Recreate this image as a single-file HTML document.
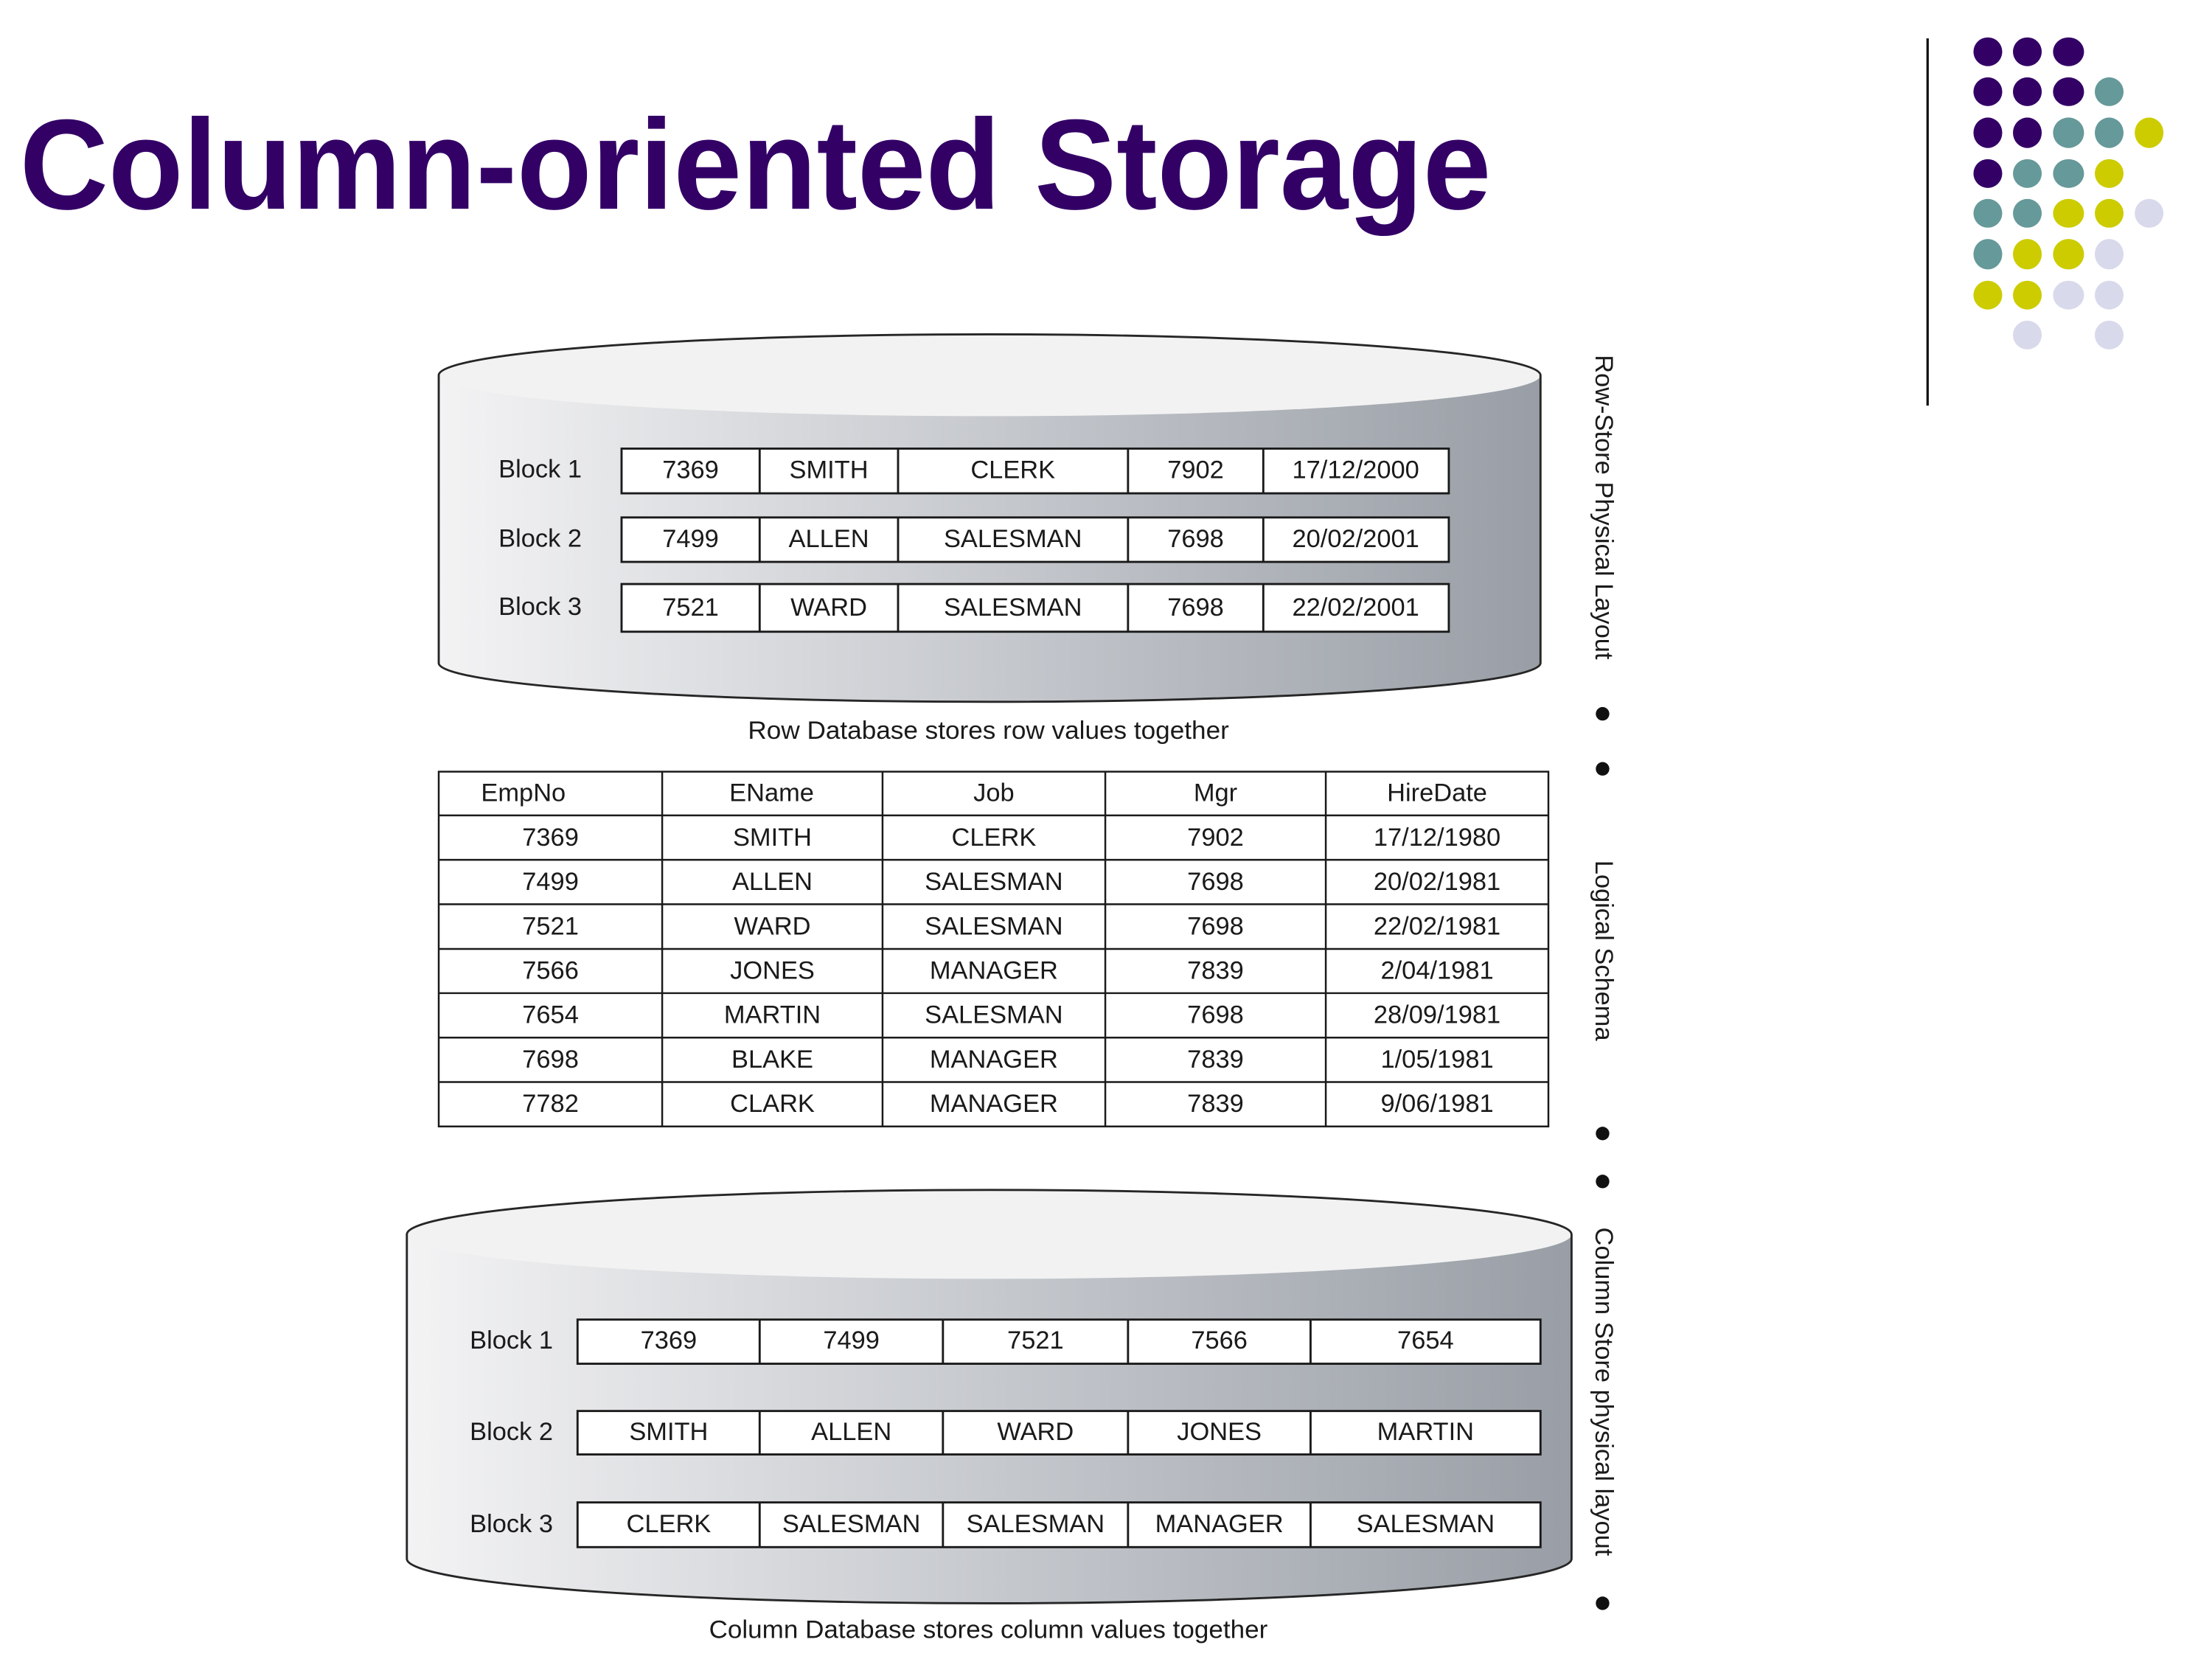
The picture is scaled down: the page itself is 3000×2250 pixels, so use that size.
<!DOCTYPE html>
<html>
<head>
<meta charset="utf-8">
<style>
  html,body{margin:0;padding:0;background:#fff;}
  svg{display:block;}
  .t{font-family:"Liberation Sans",Arial,sans-serif;font-size:18px;fill:#1a1a1a;}
  .c{text-anchor:middle;}
</style>
</head>
<body>
<svg width="3000" height="2250" viewBox="0 0 1568 1176" xmlns="http://www.w3.org/2000/svg">
  <defs>
    <linearGradient id="body" x1="0" y1="0" x2="1" y2="0">
      <stop offset="0" stop-color="#f3f3f4"/>
      <stop offset="0.5" stop-color="#c6c9ce"/>
      <stop offset="1" stop-color="#999ea6"/>
    </linearGradient>
  </defs>
  <rect x="0" y="0" width="1568" height="1176" fill="#fff"/>

  <!-- Title -->
  <text x="14" y="148" font-family="'Liberation Sans',Arial,sans-serif" font-weight="bold" font-size="91" fill="#330066" textLength="1043" lengthAdjust="spacingAndGlyphs">Column-oriented Storage</text>

  <!-- vertical rule -->
  <line x1="1366.4" y1="27.2" x2="1366.4" y2="287.5" stroke="#111" stroke-width="1.7"/>

  <!-- dots -->
  <g>
    <ellipse cx="1409.1" cy="36.7" rx="10.2" ry="10.2" fill="#330066"/>
    <ellipse cx="1437.1" cy="36.7" rx="10.2" ry="10.2" fill="#330066"/>
    <ellipse cx="1466.3" cy="36.7" rx="11" ry="10.2" fill="#330066"/>
    <ellipse cx="1409.1" cy="65" rx="10.2" ry="10.2" fill="#330066"/>
    <ellipse cx="1437.1" cy="65" rx="10.2" ry="10.2" fill="#330066"/>
    <ellipse cx="1466.3" cy="65" rx="11" ry="10.2" fill="#330066"/>
    <ellipse cx="1495.1" cy="65" rx="10.2" ry="10.2" fill="#669999"/>
    <ellipse cx="1409.1" cy="94.1" rx="10.2" ry="10.8" fill="#330066"/>
    <ellipse cx="1437.1" cy="94.1" rx="10.2" ry="10.8" fill="#330066"/>
    <ellipse cx="1466.3" cy="94.1" rx="11" ry="10.8" fill="#669999"/>
    <ellipse cx="1495.1" cy="94.1" rx="10.2" ry="10.8" fill="#669999"/>
    <ellipse cx="1523.4" cy="94.1" rx="10.2" ry="10.8" fill="#cccc00"/>
    <ellipse cx="1409.1" cy="123" rx="10.2" ry="10.2" fill="#330066"/>
    <ellipse cx="1437.1" cy="123" rx="10.2" ry="10.2" fill="#669999"/>
    <ellipse cx="1466.3" cy="123" rx="11" ry="10.2" fill="#669999"/>
    <ellipse cx="1495.1" cy="123" rx="10.2" ry="10.2" fill="#cccc00"/>
    <ellipse cx="1409.1" cy="151.2" rx="10.2" ry="10.2" fill="#669999"/>
    <ellipse cx="1437.1" cy="151.2" rx="10.2" ry="10.2" fill="#669999"/>
    <ellipse cx="1466.3" cy="151.2" rx="11" ry="10.2" fill="#cccc00"/>
    <ellipse cx="1495.1" cy="151.2" rx="10.2" ry="10.2" fill="#cccc00"/>
    <ellipse cx="1523.4" cy="151.2" rx="10.2" ry="10.2" fill="#d9d9ec"/>
    <ellipse cx="1409.1" cy="180.2" rx="10.2" ry="10.8" fill="#669999"/>
    <ellipse cx="1437.1" cy="180.2" rx="10.2" ry="10.8" fill="#cccc00"/>
    <ellipse cx="1466.3" cy="180.2" rx="11" ry="10.8" fill="#cccc00"/>
    <ellipse cx="1495.1" cy="180.2" rx="10.2" ry="10.8" fill="#d9d9ec"/>
    <ellipse cx="1409.1" cy="209.2" rx="10.2" ry="10.2" fill="#cccc00"/>
    <ellipse cx="1437.1" cy="209.2" rx="10.2" ry="10.2" fill="#cccc00"/>
    <ellipse cx="1466.3" cy="209.2" rx="11" ry="10.2" fill="#d9d9ec"/>
    <ellipse cx="1495.1" cy="209.2" rx="10.2" ry="10.2" fill="#d9d9ec"/>
    <ellipse cx="1437.1" cy="237.5" rx="10.2" ry="10.2" fill="#d9d9ec"/>
    <ellipse cx="1495.1" cy="237.5" rx="10.2" ry="10.2" fill="#d9d9ec"/>
  </g>

  <!-- ================= TOP CYLINDER ================= -->
  <path d="M311,266 V470 A390.5,27.5 0 0 0 1092,470 V266 Z" fill="url(#body)"/>
  <ellipse cx="701.5" cy="266" rx="390.5" ry="29" fill="#f2f2f2"/>
  <path d="M311,470 V266 A390.5,29 0 0 1 1092,266 V470 A390.5,27.5 0 0 1 311,470 Z" fill="none" stroke="#262626" stroke-width="1.5"/>

  <g fill="#fff" stroke="#1a1a1a" stroke-width="1.5">
    <rect x="440.6" y="318" width="586.4" height="31.7"/>
    <rect x="440.6" y="366.8" width="586.4" height="31.5"/>
    <rect x="440.6" y="414" width="586.4" height="33.8"/>
  </g>
  <g stroke="#1a1a1a" stroke-width="1.5">
    <line x1="538.5" y1="318" x2="538.5" y2="349.7"/>
    <line x1="636.6" y1="318" x2="636.6" y2="349.7"/>
    <line x1="799.6" y1="318" x2="799.6" y2="349.7"/>
    <line x1="895.5" y1="318" x2="895.5" y2="349.7"/>
    <line x1="538.5" y1="366.8" x2="538.5" y2="398.3"/>
    <line x1="636.6" y1="366.8" x2="636.6" y2="398.3"/>
    <line x1="799.6" y1="366.8" x2="799.6" y2="398.3"/>
    <line x1="895.5" y1="366.8" x2="895.5" y2="398.3"/>
    <line x1="538.5" y1="414" x2="538.5" y2="447.8"/>
    <line x1="636.6" y1="414" x2="636.6" y2="447.8"/>
    <line x1="799.6" y1="414" x2="799.6" y2="447.8"/>
    <line x1="895.5" y1="414" x2="895.5" y2="447.8"/>
  </g>
  <g class="t">
    <text x="353.4" y="338.5">Block 1</text>
    <text x="353.4" y="387.5">Block 2</text>
    <text x="353.4" y="436">Block 3</text>
  </g>
  <g class="t c">
    <text x="489.5" y="339">7369</text>
    <text x="587.5" y="339">SMITH</text>
    <text x="718" y="339">CLERK</text>
    <text x="847.5" y="339">7902</text>
    <text x="961" y="339">17/12/2000</text>

    <text x="489.5" y="387.8">7499</text>
    <text x="587.5" y="387.8">ALLEN</text>
    <text x="718" y="387.8">SALESMAN</text>
    <text x="847.5" y="387.8">7698</text>
    <text x="961" y="387.8">20/02/2001</text>

    <text x="489.5" y="436.5">7521</text>
    <text x="587.5" y="436.5">WARD</text>
    <text x="718" y="436.5">SALESMAN</text>
    <text x="847.5" y="436.5">7698</text>
    <text x="961" y="436.5">22/02/2001</text>
  </g>
  <text class="t c" x="700.7" y="523.6" textLength="341" lengthAdjust="spacingAndGlyphs">Row Database stores row values together</text>

  <!-- ================= LOGICAL TABLE ================= -->
  <g fill="none" stroke="#1a1a1a" stroke-width="1.3">
    <rect x="311" y="547" width="786.6" height="251.5"/>
    <line x1="311" y1="578" x2="1097.6" y2="578"/>
    <line x1="311" y1="609.5" x2="1097.6" y2="609.5"/>
    <line x1="311" y1="641" x2="1097.6" y2="641"/>
    <line x1="311" y1="672.7" x2="1097.6" y2="672.7"/>
    <line x1="311" y1="704" x2="1097.6" y2="704"/>
    <line x1="311" y1="735.5" x2="1097.6" y2="735.5"/>
    <line x1="311" y1="767" x2="1097.6" y2="767"/>
    <line x1="469.4" y1="547" x2="469.4" y2="798.5"/>
    <line x1="625.6" y1="547" x2="625.6" y2="798.5"/>
    <line x1="783.5" y1="547" x2="783.5" y2="798.5"/>
    <line x1="939.8" y1="547" x2="939.8" y2="798.5"/>
  </g>
  <g class="t c">
    <text x="371" y="568">EmpNo</text>
    <text x="547" y="568">EName</text>
    <text x="704.5" y="568">Job</text>
    <text x="861.6" y="568">Mgr</text>
    <text x="1018.7" y="568">HireDate</text>

    <text x="390.2" y="599.4">7369</text>
    <text x="547.5" y="599.4">SMITH</text>
    <text x="704.5" y="599.4">CLERK</text>
    <text x="861.6" y="599.4">7902</text>
    <text x="1018.7" y="599.4">17/12/1980</text>

    <text x="390.2" y="630.9">7499</text>
    <text x="547.5" y="630.9">ALLEN</text>
    <text x="704.5" y="630.9">SALESMAN</text>
    <text x="861.6" y="630.9">7698</text>
    <text x="1018.7" y="630.9">20/02/1981</text>

    <text x="390.2" y="662.4">7521</text>
    <text x="547.5" y="662.4">WARD</text>
    <text x="704.5" y="662.4">SALESMAN</text>
    <text x="861.6" y="662.4">7698</text>
    <text x="1018.7" y="662.4">22/02/1981</text>

    <text x="390.2" y="693.9">7566</text>
    <text x="547.5" y="693.9">JONES</text>
    <text x="704.5" y="693.9">MANAGER</text>
    <text x="861.6" y="693.9">7839</text>
    <text x="1018.7" y="693.9">2/04/1981</text>

    <text x="390.2" y="725.3">7654</text>
    <text x="547.5" y="725.3">MARTIN</text>
    <text x="704.5" y="725.3">SALESMAN</text>
    <text x="861.6" y="725.3">7698</text>
    <text x="1018.7" y="725.3">28/09/1981</text>

    <text x="390.2" y="756.8">7698</text>
    <text x="547.5" y="756.8">BLAKE</text>
    <text x="704.5" y="756.8">MANAGER</text>
    <text x="861.6" y="756.8">7839</text>
    <text x="1018.7" y="756.8">1/05/1981</text>

    <text x="390.2" y="788.3">7782</text>
    <text x="547.5" y="788.3">CLARK</text>
    <text x="704.5" y="788.3">MANAGER</text>
    <text x="861.6" y="788.3">7839</text>
    <text x="1018.7" y="788.3">9/06/1981</text>
  </g>

  <!-- ================= BOTTOM CYLINDER ================= -->
  <path d="M288.4,875 V1105 A412.8,31.5 0 0 0 1114,1105 V875 Z" fill="url(#body)"/>
  <ellipse cx="701.2" cy="875" rx="412.8" ry="31.5" fill="#f2f2f2"/>
  <path d="M288.4,1105 V875 A412.8,31.5 0 0 1 1114,875 V1105 A412.8,31.5 0 0 1 288.4,1105 Z" fill="none" stroke="#262626" stroke-width="1.5"/>

  <g fill="#fff" stroke="#1a1a1a" stroke-width="1.5">
    <rect x="409.4" y="935.4" width="682.6" height="31.3"/>
    <rect x="409.4" y="1000.2" width="682.6" height="30.8"/>
    <rect x="409.4" y="1065" width="682.6" height="31.7"/>
  </g>
  <g stroke="#1a1a1a" stroke-width="1.5">
    <line x1="538.5" y1="935.4" x2="538.5" y2="966.7"/>
    <line x1="668.4" y1="935.4" x2="668.4" y2="966.7"/>
    <line x1="799.6" y1="935.4" x2="799.6" y2="966.7"/>
    <line x1="929" y1="935.4" x2="929" y2="966.7"/>
    <line x1="538.5" y1="1000.2" x2="538.5" y2="1031"/>
    <line x1="668.4" y1="1000.2" x2="668.4" y2="1031"/>
    <line x1="799.6" y1="1000.2" x2="799.6" y2="1031"/>
    <line x1="929" y1="1000.2" x2="929" y2="1031"/>
    <line x1="538.5" y1="1065" x2="538.5" y2="1096.7"/>
    <line x1="668.4" y1="1065" x2="668.4" y2="1096.7"/>
    <line x1="799.6" y1="1065" x2="799.6" y2="1096.7"/>
    <line x1="929" y1="1065" x2="929" y2="1096.7"/>
  </g>
  <g class="t">
    <text x="333" y="956">Block 1</text>
    <text x="333" y="1020.8">Block 2</text>
    <text x="333" y="1086">Block 3</text>
  </g>
  <g class="t c">
    <text x="474" y="956">7369</text>
    <text x="603.5" y="956">7499</text>
    <text x="734" y="956">7521</text>
    <text x="864.3" y="956">7566</text>
    <text x="1010.5" y="956">7654</text>

    <text x="474" y="1020.8">SMITH</text>
    <text x="603.5" y="1020.8">ALLEN</text>
    <text x="734" y="1020.8">WARD</text>
    <text x="864.3" y="1020.8">JONES</text>
    <text x="1010.5" y="1020.8">MARTIN</text>

    <text x="474" y="1086">CLERK</text>
    <text x="603.5" y="1086">SALESMAN</text>
    <text x="734" y="1086">SALESMAN</text>
    <text x="864.3" y="1086">MANAGER</text>
    <text x="1010.5" y="1086">SALESMAN</text>
  </g>
  <text class="t c" x="700.6" y="1161" textLength="396" lengthAdjust="spacingAndGlyphs">Column Database stores column values together</text>

  <!-- ================= SIDE LABELS ================= -->
  <g class="t c">
    <text transform="translate(1136,359.5) rotate(90)" x="0" y="5">Row-Store Physical Layout</text>
    <text transform="translate(1136,673.8) rotate(90)" x="0" y="5">Logical Schema</text>
    <text transform="translate(1136,986.5) rotate(90)" x="0" y="5">Column Store physical layout</text>
  </g>

  <!-- bullets -->
  <g fill="#111">
    <circle cx="1136" cy="506" r="4.8"/>
    <circle cx="1136" cy="545" r="4.8"/>
    <circle cx="1136" cy="803.5" r="4.8"/>
    <circle cx="1136" cy="837.5" r="4.8"/>
    <circle cx="1136" cy="1136.5" r="4.8"/>
  </g>
</svg>
</body>
</html>
